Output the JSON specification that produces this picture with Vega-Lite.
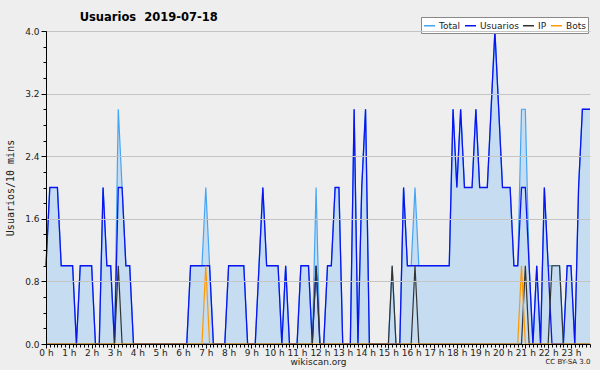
{
  "$schema": "https://vega.github.io/schema/vega-lite/v6.json",
  "width": 544,
  "height": 313,
  "autosize": {"type": "none"},
  "padding": {"left": 46, "top": 31, "right": 10, "bottom": 26},
  "background": "#eeeeee",
  "config": {
    "view": {"stroke": null},
    "axis": {"domainColor": "#000", "tickColor": "#000", "labelFont": "DejaVu Sans", "labelFontSize": 9, "labelColor": "#222", "titleFont": "DejaVu Sans", "titleFontWeight": "normal", "titleColor": "#222"}
  },
  "title": {"text": "Usuarios \u00a02019-07-18", "anchor": "start", "dx": 74, "offset": -7, "font": "DejaVu Sans", "fontSize": 11.5, "fontWeight": "bold", "color": "#000"},
  "data": {"values": [
    {"t":0,"Total":1,"Usuarios":1,"IP":0,"Bots":0},
    {"t":1,"Total":2,"Usuarios":2,"IP":0,"Bots":0},
    {"t":2,"Total":2,"Usuarios":2,"IP":0,"Bots":0},
    {"t":3,"Total":2,"Usuarios":2,"IP":0,"Bots":0},
    {"t":4,"Total":1,"Usuarios":1,"IP":0,"Bots":0},
    {"t":5,"Total":1,"Usuarios":1,"IP":0,"Bots":0},
    {"t":6,"Total":1,"Usuarios":1,"IP":0,"Bots":0},
    {"t":7,"Total":1,"Usuarios":1,"IP":0,"Bots":0},
    {"t":8,"Total":0,"Usuarios":0,"IP":0,"Bots":0},
    {"t":9,"Total":1,"Usuarios":1,"IP":0,"Bots":0},
    {"t":10,"Total":1,"Usuarios":1,"IP":0,"Bots":0},
    {"t":11,"Total":1,"Usuarios":1,"IP":0,"Bots":0},
    {"t":12,"Total":1,"Usuarios":1,"IP":0,"Bots":0},
    {"t":13,"Total":0,"Usuarios":0,"IP":0,"Bots":0},
    {"t":14,"Total":0,"Usuarios":0,"IP":0,"Bots":0},
    {"t":15,"Total":2,"Usuarios":2,"IP":0,"Bots":0},
    {"t":16,"Total":1,"Usuarios":1,"IP":0,"Bots":0},
    {"t":17,"Total":1,"Usuarios":1,"IP":0,"Bots":0},
    {"t":18,"Total":0,"Usuarios":0,"IP":0,"Bots":0},
    {"t":19,"Total":3,"Usuarios":2,"IP":1,"Bots":0},
    {"t":20,"Total":2,"Usuarios":2,"IP":0,"Bots":0},
    {"t":21,"Total":1,"Usuarios":1,"IP":0,"Bots":0},
    {"t":22,"Total":1,"Usuarios":1,"IP":0,"Bots":0},
    {"t":23,"Total":0,"Usuarios":0,"IP":0,"Bots":0},
    {"t":24,"Total":0,"Usuarios":0,"IP":0,"Bots":0},
    {"t":25,"Total":0,"Usuarios":0,"IP":0,"Bots":0},
    {"t":26,"Total":0,"Usuarios":0,"IP":0,"Bots":0},
    {"t":27,"Total":0,"Usuarios":0,"IP":0,"Bots":0},
    {"t":28,"Total":0,"Usuarios":0,"IP":0,"Bots":0},
    {"t":29,"Total":0,"Usuarios":0,"IP":0,"Bots":0},
    {"t":30,"Total":0,"Usuarios":0,"IP":0,"Bots":0},
    {"t":31,"Total":0,"Usuarios":0,"IP":0,"Bots":0},
    {"t":32,"Total":0,"Usuarios":0,"IP":0,"Bots":0},
    {"t":33,"Total":0,"Usuarios":0,"IP":0,"Bots":0},
    {"t":34,"Total":0,"Usuarios":0,"IP":0,"Bots":0},
    {"t":35,"Total":0,"Usuarios":0,"IP":0,"Bots":0},
    {"t":36,"Total":0,"Usuarios":0,"IP":0,"Bots":0},
    {"t":37,"Total":0,"Usuarios":0,"IP":0,"Bots":0},
    {"t":38,"Total":1,"Usuarios":1,"IP":0,"Bots":0},
    {"t":39,"Total":1,"Usuarios":1,"IP":0,"Bots":0},
    {"t":40,"Total":1,"Usuarios":1,"IP":0,"Bots":0},
    {"t":41,"Total":1,"Usuarios":1,"IP":0,"Bots":0},
    {"t":42,"Total":2,"Usuarios":1,"IP":0,"Bots":1},
    {"t":43,"Total":1,"Usuarios":1,"IP":0,"Bots":0},
    {"t":44,"Total":0,"Usuarios":0,"IP":0,"Bots":0},
    {"t":45,"Total":0,"Usuarios":0,"IP":0,"Bots":0},
    {"t":46,"Total":0,"Usuarios":0,"IP":0,"Bots":0},
    {"t":47,"Total":0,"Usuarios":0,"IP":0,"Bots":0},
    {"t":48,"Total":1,"Usuarios":1,"IP":0,"Bots":0},
    {"t":49,"Total":1,"Usuarios":1,"IP":0,"Bots":0},
    {"t":50,"Total":1,"Usuarios":1,"IP":0,"Bots":0},
    {"t":51,"Total":1,"Usuarios":1,"IP":0,"Bots":0},
    {"t":52,"Total":1,"Usuarios":1,"IP":0,"Bots":0},
    {"t":53,"Total":0,"Usuarios":0,"IP":0,"Bots":0},
    {"t":54,"Total":0,"Usuarios":0,"IP":0,"Bots":0},
    {"t":55,"Total":0,"Usuarios":0,"IP":0,"Bots":0},
    {"t":56,"Total":1,"Usuarios":1,"IP":0,"Bots":0},
    {"t":57,"Total":2,"Usuarios":2,"IP":0,"Bots":0},
    {"t":58,"Total":1,"Usuarios":1,"IP":0,"Bots":0},
    {"t":59,"Total":1,"Usuarios":1,"IP":0,"Bots":0},
    {"t":60,"Total":1,"Usuarios":1,"IP":0,"Bots":0},
    {"t":61,"Total":1,"Usuarios":1,"IP":0,"Bots":0},
    {"t":62,"Total":0,"Usuarios":0,"IP":0,"Bots":0},
    {"t":63,"Total":1,"Usuarios":1,"IP":0,"Bots":0},
    {"t":64,"Total":0,"Usuarios":0,"IP":0,"Bots":0},
    {"t":65,"Total":0,"Usuarios":0,"IP":0,"Bots":0},
    {"t":66,"Total":0,"Usuarios":0,"IP":0,"Bots":0},
    {"t":67,"Total":1,"Usuarios":1,"IP":0,"Bots":0},
    {"t":68,"Total":1,"Usuarios":1,"IP":0,"Bots":0},
    {"t":69,"Total":1,"Usuarios":1,"IP":0,"Bots":0},
    {"t":70,"Total":0,"Usuarios":0,"IP":0,"Bots":0},
    {"t":71,"Total":2,"Usuarios":1,"IP":1,"Bots":0},
    {"t":72,"Total":0,"Usuarios":0,"IP":0,"Bots":0},
    {"t":73,"Total":0,"Usuarios":0,"IP":0,"Bots":0},
    {"t":74,"Total":1,"Usuarios":1,"IP":0,"Bots":0},
    {"t":75,"Total":1,"Usuarios":1,"IP":0,"Bots":0},
    {"t":76,"Total":2,"Usuarios":2,"IP":0,"Bots":0},
    {"t":77,"Total":2,"Usuarios":2,"IP":0,"Bots":0},
    {"t":78,"Total":0,"Usuarios":0,"IP":0,"Bots":0},
    {"t":79,"Total":0,"Usuarios":0,"IP":0,"Bots":0},
    {"t":80,"Total":0,"Usuarios":0,"IP":0,"Bots":0},
    {"t":81,"Total":3,"Usuarios":3,"IP":0,"Bots":0},
    {"t":82,"Total":0,"Usuarios":0,"IP":0,"Bots":0},
    {"t":83,"Total":2,"Usuarios":2,"IP":0,"Bots":0},
    {"t":84,"Total":3,"Usuarios":3,"IP":0,"Bots":0},
    {"t":85,"Total":0,"Usuarios":0,"IP":0,"Bots":0},
    {"t":86,"Total":0,"Usuarios":0,"IP":0,"Bots":0},
    {"t":87,"Total":0,"Usuarios":0,"IP":0,"Bots":0},
    {"t":88,"Total":0,"Usuarios":0,"IP":0,"Bots":0},
    {"t":89,"Total":0,"Usuarios":0,"IP":0,"Bots":0},
    {"t":90,"Total":0,"Usuarios":0,"IP":0,"Bots":0},
    {"t":91,"Total":1,"Usuarios":0,"IP":1,"Bots":0},
    {"t":92,"Total":0,"Usuarios":0,"IP":0,"Bots":0},
    {"t":93,"Total":0,"Usuarios":0,"IP":0,"Bots":0},
    {"t":94,"Total":2,"Usuarios":2,"IP":0,"Bots":0},
    {"t":95,"Total":1,"Usuarios":1,"IP":0,"Bots":0},
    {"t":96,"Total":1,"Usuarios":1,"IP":0,"Bots":0},
    {"t":97,"Total":2,"Usuarios":1,"IP":1,"Bots":0},
    {"t":98,"Total":1,"Usuarios":1,"IP":0,"Bots":0},
    {"t":99,"Total":1,"Usuarios":1,"IP":0,"Bots":0},
    {"t":100,"Total":1,"Usuarios":1,"IP":0,"Bots":0},
    {"t":101,"Total":1,"Usuarios":1,"IP":0,"Bots":0},
    {"t":102,"Total":1,"Usuarios":1,"IP":0,"Bots":0},
    {"t":103,"Total":1,"Usuarios":1,"IP":0,"Bots":0},
    {"t":104,"Total":1,"Usuarios":1,"IP":0,"Bots":0},
    {"t":105,"Total":1,"Usuarios":1,"IP":0,"Bots":0},
    {"t":106,"Total":1,"Usuarios":1,"IP":0,"Bots":0},
    {"t":107,"Total":3,"Usuarios":3,"IP":0,"Bots":0},
    {"t":108,"Total":2,"Usuarios":2,"IP":0,"Bots":0},
    {"t":109,"Total":3,"Usuarios":3,"IP":0,"Bots":0},
    {"t":110,"Total":2,"Usuarios":2,"IP":0,"Bots":0},
    {"t":111,"Total":2,"Usuarios":2,"IP":0,"Bots":0},
    {"t":112,"Total":2,"Usuarios":2,"IP":0,"Bots":0},
    {"t":113,"Total":3,"Usuarios":3,"IP":0,"Bots":0},
    {"t":114,"Total":2,"Usuarios":2,"IP":0,"Bots":0},
    {"t":115,"Total":2,"Usuarios":2,"IP":0,"Bots":0},
    {"t":116,"Total":2,"Usuarios":2,"IP":0,"Bots":0},
    {"t":117,"Total":3,"Usuarios":3,"IP":0,"Bots":0},
    {"t":118,"Total":4,"Usuarios":4,"IP":0,"Bots":0},
    {"t":119,"Total":3,"Usuarios":3,"IP":0,"Bots":0},
    {"t":120,"Total":2,"Usuarios":2,"IP":0,"Bots":0},
    {"t":121,"Total":2,"Usuarios":2,"IP":0,"Bots":0},
    {"t":122,"Total":2,"Usuarios":2,"IP":0,"Bots":0},
    {"t":123,"Total":1,"Usuarios":1,"IP":0,"Bots":0},
    {"t":124,"Total":1,"Usuarios":1,"IP":0,"Bots":0},
    {"t":125,"Total":3,"Usuarios":2,"IP":0,"Bots":1},
    {"t":126,"Total":3,"Usuarios":2,"IP":1,"Bots":0},
    {"t":127,"Total":1,"Usuarios":1,"IP":0,"Bots":0},
    {"t":128,"Total":0,"Usuarios":0,"IP":0,"Bots":0},
    {"t":129,"Total":1,"Usuarios":1,"IP":0,"Bots":0},
    {"t":130,"Total":0,"Usuarios":0,"IP":0,"Bots":0},
    {"t":131,"Total":2,"Usuarios":2,"IP":0,"Bots":0},
    {"t":132,"Total":1,"Usuarios":1,"IP":0,"Bots":0},
    {"t":133,"Total":1,"Usuarios":0,"IP":1,"Bots":0},
    {"t":134,"Total":1,"Usuarios":0,"IP":1,"Bots":0},
    {"t":135,"Total":1,"Usuarios":0,"IP":1,"Bots":0},
    {"t":136,"Total":0,"Usuarios":0,"IP":0,"Bots":0},
    {"t":137,"Total":1,"Usuarios":1,"IP":0,"Bots":0},
    {"t":138,"Total":1,"Usuarios":1,"IP":0,"Bots":0},
    {"t":139,"Total":0,"Usuarios":0,"IP":0,"Bots":0},
    {"t":140,"Total":2,"Usuarios":2,"IP":0,"Bots":0},
    {"t":141,"Total":3,"Usuarios":3,"IP":0,"Bots":0},
    {"t":142,"Total":3,"Usuarios":3,"IP":0,"Bots":0},
    {"t":143,"Total":3,"Usuarios":3,"IP":0,"Bots":0}
  ]},
  "transform": [{"fold": ["Total", "Usuarios", "IP", "Bots"], "as": ["serie", "valor"]}],
  "layer": [
    {
      "transform": [{"filter": "datum.serie == 'Total'"}],
      "mark": {"type": "area", "color": "#c6dcf0", "opacity": 1},
      "encoding": {
        "x": {"field": "t", "type": "quantitative", "scale": {"domain": [0, 143], "nice": false, "zero": false},
          "axis": {"orient": "bottom", "zindex": 1, "values": [0,6,12,18,24,30,36,42,48,54,60,66,72,78,84,90,96,102,108,114,120,126,132,138], "labelExpr": "floor(datum.value / 6) + ' h'", "tickSize": 4, "labelPadding": 0, "grid": false, "title": "wikiscan.org", "titleFontSize": 9, "titlePadding": 0, "labelFlush": false, "labelOverlap": false}},
        "y": {"field": "valor", "type": "quantitative", "scale": {"domain": [0, 4], "nice": false},
          "axis": {"orient": "left", "zindex": 1, "values": [0, 0.8, 1.6, 2.4, 3.2, 4.0], "format": ".1f", "tickSize": 5, "labelPadding": 2, "grid": true, "gridColor": "#c4c4c4", "title": "Usuarios/10 mins", "titleFont": "DejaVu Sans Mono", "titleFontSize": 10, "titlePadding": 9}}
      }
    },
    {
      "transform": [{"filter": "datum.serie == 'Total'"}],
      "mark": {"type": "line", "strokeWidth": 1.2},
      "encoding": {
        "x": {"field": "t", "type": "quantitative",
          "axis": {"orient": "bottom", "zindex": 1, "values": [0,1,2,3,4,5,6,7,8,9,10,11,12,13,14,15,16,17,18,19,20,21,22,23,24,25,26,27,28,29,30,31,32,33,34,35,36,37,38,39,40,41,42,43,44,45,46,47,48,49,50,51,52,53,54,55,56,57,58,59,60,61,62,63,64,65,66,67,68,69,70,71,72,73,74,75,76,77,78,79,80,81,82,83,84,85,86,87,88,89,90,91,92,93,94,95,96,97,98,99,100,101,102,103,104,105,106,107,108,109,110,111,112,113,114,115,116,117,118,119,120,121,122,123,124,125,126,127,128,129,130,131,132,133,134,135,136,137,138,139,140,141,142,143], "labels": false, "tickSize": 3, "domain": false, "grid": false, "title": "CC BY-SA 3.0", "titleFontSize": 7, "titleAnchor": "end", "titlePadding": 10}},
        "y": {"field": "valor", "type": "quantitative",
          "axis": {"orient": "left", "zindex": 1, "values": [0,0.2,0.4,0.6,0.8,1,1.2,1.4,1.6,1.8,2,2.2,2.4,2.6,2.8,3,3.2,3.4,3.6,3.8,4], "labels": false, "tickSize": 3, "domain": false, "grid": false, "title": null}},
        "color": {"field": "serie", "type": "nominal",
          "scale": {"domain": ["Total", "Usuarios", "IP", "Bots"], "range": ["#45a5f5", "#0a14f0", "#333333", "#ff9900"]},
          "legend": {"orient": "none", "legendX": 375, "legendY": -14, "direction": "horizontal", "title": null, "fillColor": "#ffffff", "strokeColor": "#888888", "padding": 2, "symbolType": "stroke", "symbolSize": 121, "symbolStrokeWidth": 1.5, "labelFont": "DejaVu Sans", "labelFontSize": 9, "labelColor": "#222", "columnPadding": 1, "labelOffset": 3}}
      }
    },
    {
      "transform": [{"filter": "datum.serie == 'Usuarios'"}],
      "mark": {"type": "line", "strokeWidth": 1.3},
      "encoding": {
        "x": {"field": "t", "type": "quantitative", "axis": null},
        "y": {"field": "valor", "type": "quantitative", "axis": null},
        "color": {"field": "serie", "type": "nominal"}
      }
    },
    {
      "transform": [{"filter": "datum.serie == 'IP'"}],
      "mark": {"type": "line", "strokeWidth": 1.2},
      "encoding": {
        "x": {"field": "t", "type": "quantitative", "axis": null},
        "y": {"field": "valor", "type": "quantitative", "axis": null},
        "color": {"field": "serie", "type": "nominal"}
      }
    },
    {
      "transform": [{"filter": "datum.serie == 'Bots'"}],
      "mark": {"type": "line", "strokeWidth": 1.2},
      "encoding": {
        "x": {"field": "t", "type": "quantitative", "axis": null},
        "y": {"field": "valor", "type": "quantitative", "axis": null},
        "color": {"field": "serie", "type": "nominal"}
      }
    }
  ],
  "resolve": {"axis": {"x": "independent", "y": "independent"}}
}
